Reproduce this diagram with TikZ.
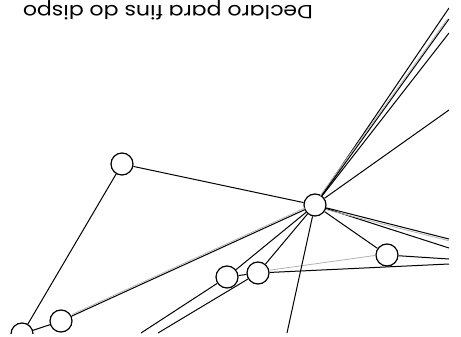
\documentclass[tikz,border=0pt]{standalone}
\usepackage{fontspec}
\setmainfont{Poppins}

\begin{document}
\begin{tikzpicture}
[
    x=1pt, y=-1pt,
    vertex/.style={circle, draw, line width=1.2pt, minimum size=22pt, inner sep=0pt, fill=white},
    edge/.style={line width=1pt},
    ghost/.style={line width=0.8pt, black!30},
]
\useasboundingbox (0,0) rectangle (461,337);
\node [rotate=180, xscale=1.16, anchor=base west, inner sep=0pt, font=\fontsize{19}{23}\selectfont] (note) at (313,5.5) {Declaro para fins do dispo};
\begin{scope}
\clip (0,0) rectangle (449,333);
\node [vertex] (A) at (122,164) {};
\node [vertex] (H) at (315,205) {};
\node [vertex] (R) at (387,255) {};
\node [vertex] (C1) at (227,277) {};
\node [vertex] (C2) at (258,273) {};
\node [vertex] (L1) at (61,321) {};
\node [vertex] (L0) at (22,334) {};
\coordinate (t1) at (449,8);
\coordinate (t2) at (449,19);
\coordinate (t3) at (449,33);
\coordinate (t4) at (449,110);
\coordinate (e1) at (449,239);
\coordinate (e2) at (449,248);
\coordinate (e3) at (449,259);
\coordinate (e4) at (449,264);
\coordinate (b1) at (141,333);
\coordinate (b2) at (158,333);
\coordinate (b3) at (287,333);
\draw [edge] (A) -- (H);
\draw [edge] (A) -- (L0);
\draw [edge] (L0) -- (L1);
\draw [edge] (L1) -- (H);
\draw [ghost, transform canvas={shift={(0.6pt,1.8pt)}}] (L1) -- (H);
\foreach \e in {t1,t2,t3,t4,e1,e2}
    \draw [edge] (H) -- (\e);
\draw [ghost, transform canvas={shift={(-1.5pt,0pt)}}] (H) -- (t2);
\draw [ghost, transform canvas={shift={(0pt,-1.8pt)}}] (H) -- (e1);
\draw [edge] (H) -- (R);
\draw [edge] (R) -- (e3);
\draw [edge] (C2) -- (e4);
\draw [ghost, transform canvas={shift={(0pt,1.2pt)}}] (C2) -- (R);
\draw [edge] (H) -- (C1);
\draw [edge] (H) -- (C2);
\draw [edge] (C1) -- (C2);
\draw [edge] (C1) -- (b1);
\draw [edge] (C2) -- (b2);
\draw [edge] (H) -- (b3);
\end{scope}
\end{tikzpicture}
\end{document}
